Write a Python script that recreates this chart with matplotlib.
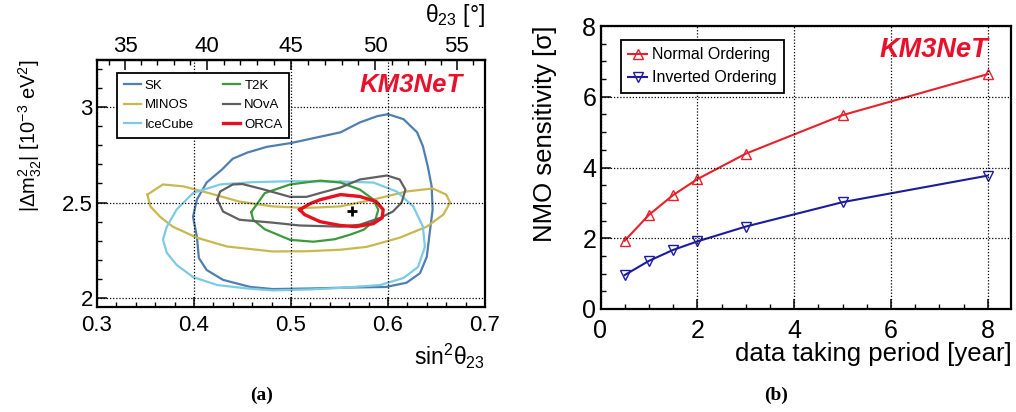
import numpy as np
import matplotlib
matplotlib.use("Agg")
import matplotlib.pyplot as plt
from matplotlib.ticker import MultipleLocator, FixedLocator

plt.rcParams["font.family"] = ["Liberation Sans", "DejaVu Sans"]
plt.rcParams["mathtext.fontset"] = "custom"
plt.rcParams["mathtext.rm"] = "Liberation Sans"
plt.rcParams["mathtext.it"] = "Liberation Sans:italic"
plt.rcParams["mathtext.bf"] = "Liberation Sans:bold"

# ---- panel (a): contours in (sin^2 theta23, |dm2_32| [1e-3 eV^2]) ----
sk_s2 = [0.600, 0.589, 0.571, 0.551, 0.530, 0.500, 0.475, 0.455, 0.440, 0.429, 0.413,
         0.403, 0.399, 0.403, 0.405, 0.413, 0.430, 0.458, 0.481, 0.520, 0.560, 0.598,
         0.619, 0.633, 0.640, 0.643, 0.646, 0.645, 0.641, 0.636, 0.630, 0.616]
sk_dm = [2.963, 2.953, 2.920, 2.868, 2.845, 2.812, 2.792, 2.762, 2.730, 2.674, 2.605,
         2.516, 2.426, 2.320, 2.210, 2.147, 2.095, 2.058, 2.047, 2.050, 2.055, 2.058,
         2.080, 2.130, 2.216, 2.342, 2.463, 2.585, 2.690, 2.795, 2.868, 2.937]

minos_s2 = [0.352, 0.368, 0.389, 0.413, 0.447, 0.481, 0.515, 0.551, 0.585, 0.619, 0.646,
            0.660, 0.664, 0.657, 0.640, 0.612, 0.578, 0.551, 0.515, 0.481, 0.434, 0.403,
            0.378, 0.365, 0.355]
minos_dm = [2.542, 2.595, 2.585, 2.553, 2.505, 2.480, 2.472, 2.480, 2.516, 2.558, 2.574,
            2.542, 2.500, 2.437, 2.374, 2.316, 2.268, 2.253, 2.245, 2.244, 2.270, 2.316,
            2.374, 2.426, 2.480]

icecube_s2 = [0.551, 0.585, 0.609, 0.626, 0.636, 0.638, 0.631, 0.616, 0.592, 0.551, 0.520,
              0.481, 0.455, 0.424, 0.399, 0.382, 0.372, 0.368, 0.372, 0.382, 0.399, 0.427,
              0.460, 0.500]
icecube_dm = [2.610, 2.605, 2.558, 2.480, 2.374, 2.268, 2.163, 2.105, 2.068, 2.053, 2.045,
              2.040, 2.050, 2.068, 2.110, 2.174, 2.237, 2.305, 2.374, 2.463, 2.550, 2.595,
              2.607, 2.612]

t2k_s2 = [0.459, 0.473, 0.499, 0.530, 0.551, 0.571, 0.585, 0.590, 0.587, 0.575, 0.561,
          0.545, 0.523, 0.499, 0.473, 0.461]
t2k_dm = [2.450, 2.550, 2.595, 2.615, 2.605, 2.568, 2.516, 2.463, 2.410, 2.358, 2.332,
          2.308, 2.295, 2.305, 2.360, 2.410]

nova_s2 = [0.424, 0.427, 0.440, 0.450, 0.471, 0.499, 0.516, 0.530, 0.551, 0.571, 0.599,
           0.612, 0.618, 0.614, 0.605, 0.592, 0.571, 0.551, 0.509, 0.481, 0.447, 0.430]
nova_dm = [2.516, 2.558, 2.595, 2.597, 2.570, 2.530, 2.530, 2.550, 2.579, 2.621, 2.642,
           2.621, 2.568, 2.500, 2.453, 2.420, 2.384, 2.374, 2.380, 2.395, 2.410, 2.453]

orca_s2 = [0.509, 0.520, 0.530, 0.551, 0.571, 0.588, 0.595, 0.594, 0.585, 0.567, 0.551,
           0.530, 0.514]
orca_dm = [2.463, 2.495, 2.515, 2.542, 2.532, 2.505, 2.463, 2.420, 2.390, 2.374, 2.380,
           2.400, 2.437]

best_fit = (0.563, 2.455)

contours = [
    ("SK", sk_s2, sk_dm, "#4f7fb0", 1.6),
    ("MINOS", minos_s2, minos_dm, "#c9b84f", 1.6),
    ("IceCube", icecube_s2, icecube_dm, "#7ccbe5", 1.6),
    ("T2K", t2k_s2, t2k_dm, "#3c9a3c", 1.6),
    ("NOvA", nova_s2, nova_dm, "#606060", 1.6),
    ("ORCA", orca_s2, orca_dm, "#e8101e", 2.4),
]

# ---- panel (b): NMO sensitivity vs. data taking period ----
years = [0.5, 1, 1.5, 2, 3, 5, 8]
no_sigma = [1.93, 2.66, 3.22, 3.67, 4.39, 5.48, 6.64]
io_sigma = [0.96, 1.36, 1.67, 1.91, 2.33, 3.02, 3.77]

W, H = 1016, 412
fig = plt.figure(figsize=(W / 100, H / 100), dpi=100)


def px_axes(l, r, t, b):
    return fig.add_axes([l / W, 1 - b / H, (r - l) / W, (b - t) / H])


def style_axes(ax):
    for sp in ax.spines.values():
        sp.set_linewidth(1.6)
    ax.tick_params(which="both", direction="in", top=False, right=False)
    ax.tick_params(which="major", length=7, width=1.1)
    ax.tick_params(which="minor", length=3.5, width=1.0)
    ax.grid(True, which="major", color="black", linestyle=(0, (1, 1.5)), linewidth=0.9)
    ax.set_axisbelow(False)


# panel (a)
ax1 = px_axes(97, 485, 60, 307)
style_axes(ax1)
for name, xs, ys, col, lw in contours:
    ax1.plot(xs + xs[:1], ys + ys[:1], color=col, lw=lw, label=name,
             solid_joinstyle="round")
ax1.plot(*best_fit, marker="+", color="black", ms=7, mew=2)
ax1.set_xlim(0.3, 0.7)
ax1.set_ylim(1.953, 3.247)
ax1.xaxis.set_minor_locator(MultipleLocator(0.02))
ax1.yaxis.set_minor_locator(MultipleLocator(0.1))
ax1.set_xticks([0.3, 0.4, 0.5, 0.6, 0.7])
ax1.set_xticklabels(["0.3", "0.4", "0.5", "0.6", "0.7"])
ax1.set_yticks([2, 2.5, 3])
ax1.set_yticklabels(["2", "2.5", "3"])
ax1.tick_params(axis="x", labelsize=16, pad=6)
ax1.tick_params(axis="y", labelsize=16, pad=3)

top = ax1.secondary_xaxis(
    "top",
    functions=(lambda s: np.degrees(np.arcsin(np.sqrt(np.clip(s, 0, 1)))),
               lambda t: np.sin(np.radians(t)) ** 2),
)
top.xaxis.set_major_locator(FixedLocator([35, 40, 45, 50, 55]))
top.xaxis.set_minor_locator(FixedLocator(np.arange(34, 57, 1)))
top.tick_params(which="both", direction="in", labelsize=16, pad=2)
top.tick_params(which="major", length=7, width=1.1)
top.tick_params(which="minor", length=3.5, width=1.0)
top.spines["top"].set_linewidth(1.6)

ax1.text(1.0, -0.14, "sin$^2$θ$_{23}$", transform=ax1.transAxes,
         ha="right", va="top", fontsize=16.5)
ax1.text(1.0, 1.235, "θ$_{23}$ [°]", transform=ax1.transAxes,
         ha="right", va="top", fontsize=16.5)
ax1.text(-0.206, 1.0, "|Δm$^2_{32}$| [10$^{-3}$ eV$^2$]", transform=ax1.transAxes,
         ha="right", va="top", rotation=90, rotation_mode="anchor", fontsize=14.5)
ax1.text(0.81, 0.9, "KM3NeT", transform=ax1.transAxes, ha="center", va="center",
         color="#e8102a", fontsize=18.5, fontweight="bold", fontstyle="italic")

leg1 = ax1.legend(loc="upper left", bbox_to_anchor=(0.052, 0.947), borderaxespad=0,
                  ncol=2, fontsize=9.5, handlelength=1.3, handletextpad=0.3,
                  columnspacing=2.2, labelspacing=0.55, fancybox=False,
                  framealpha=1, edgecolor="black", borderpad=0.5)
leg1.get_frame().set_linewidth(1.3)

# panel (b)
ax2 = px_axes(600.5, 1011.5, 26, 309)
style_axes(ax2)
ax2.plot(years, no_sigma, color="#e8202a", lw=1.5, marker="^", ms=7,
         mfc="none", mec="#e8202a", mew=1.0, label="Normal Ordering")
ax2.plot(years, io_sigma, color="#1c1c9c", lw=1.5, marker="v", ms=7,
         mfc="none", mec="#1c1c9c", mew=1.0, label="Inverted Ordering")
ax2.set_xlim(0, 8.49)
ax2.set_ylim(0, 8)
ax2.xaxis.set_major_locator(MultipleLocator(2))
ax2.xaxis.set_minor_locator(MultipleLocator(0.5))
ax2.yaxis.set_major_locator(MultipleLocator(2))
ax2.yaxis.set_minor_locator(MultipleLocator(0.5))
ax2.tick_params(axis="x", labelsize=18, pad=7)
ax2.tick_params(axis="y", labelsize=18, pad=3)
ax2.text(1.0, -0.115, "data taking period [year]", transform=ax2.transAxes,
         ha="right", va="top", fontsize=18.5)
ax2.text(-0.164, 1.0035, "NMO sensitivity [σ]", transform=ax2.transAxes,
         ha="right", va="top", rotation=90, rotation_mode="anchor", fontsize=18.5)
ax2.text(0.81, 0.915, "KM3NeT", transform=ax2.transAxes, ha="center", va="center",
         color="#e8102a", fontsize=19.5, fontweight="bold", fontstyle="italic")
leg2 = ax2.legend(loc="upper left", bbox_to_anchor=(0.05, 0.95), borderaxespad=0,
                  fontsize=11.5, handlelength=1.2, handletextpad=0.3,
                  labelspacing=0.5, fancybox=False, framealpha=1,
                  edgecolor="black", borderpad=0.45)
leg2.get_frame().set_linewidth(1.3)

# captions
fig.text(262 / W, 1 - 395 / H, "(a)", ha="center", va="center", fontsize=14,
         fontweight="bold", family="Liberation Serif")
fig.text(776 / W, 1 - 395 / H, "(b)", ha="center", va="center", fontsize=14,
         fontweight="bold", family="Liberation Serif")

fig.savefig("out.png", dpi=100)
